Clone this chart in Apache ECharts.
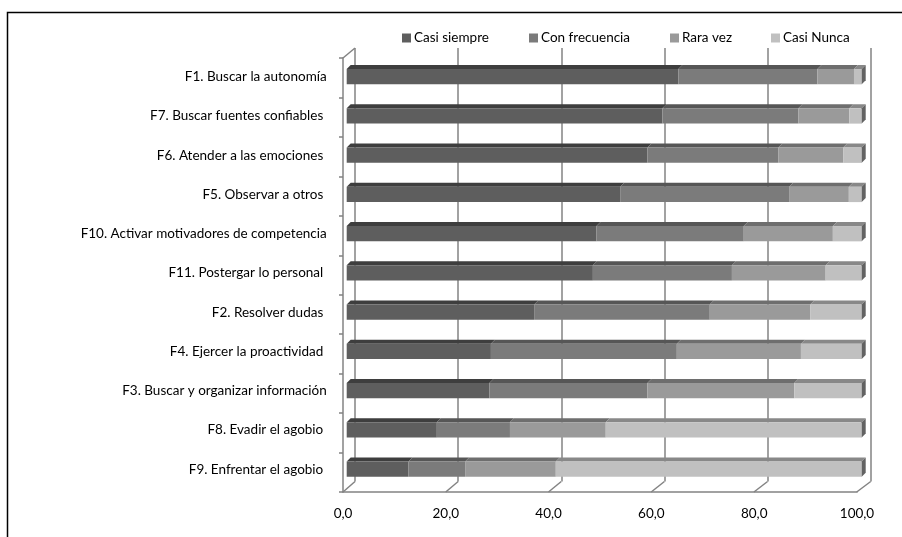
<!DOCTYPE html>
<html>
<head>
<meta charset="utf-8">
<script src="https://cdn.jsdelivr.net/npm/echarts@6/dist/echarts.min.js"></script>
<style>
  html, body { margin: 0; padding: 0; background: #fff; }
  #chart { width: 902px; height: 537px; }
</style>
</head>
<body>
<div id="chart"></div>
<script>
// Strategies, top to bottom
const categories = [
  'F1. Buscar la autonomía',
  'F7. Buscar fuentes confiables ',
  'F6. Atender a las emociones ',
  'F5. Observar a otros ',
  'F10. Activar motivadores de competencia',
  'F11. Postergar lo personal ',
  'F2. Resolver dudas ',
  'F4. Ejercer la proactividad ',
  'F3. Buscar y organizar información',
  'F8. Evadir el agobio ',
  'F9. Enfrentar el agobio '
];

const seriesNames = ['Casi siempre', 'Con frecuencia', 'Rara vez', 'Casi Nunca'];

// Percentages per answer, same order as categories
const casiSiempre   = [64.4, 61.3, 58.4, 53.1, 48.5, 47.8, 36.4, 28.0, 27.7, 17.5, 12.0];
const conFrecuencia = [27.0, 26.4, 25.4, 32.8, 28.6, 27.0, 34.1, 36.1, 30.7, 14.2, 11.0];
const raraVez       = [ 7.1,  9.9, 12.6, 11.6, 17.3, 18.2, 19.5, 24.1, 28.5, 18.6, 17.6];
const casiNunca     = [ 1.5,  2.4,  3.6,  2.5,  5.6,  7.0, 10.0, 11.8, 13.1, 49.7, 59.4];

const xTicks = [0, 20, 40, 60, 80, 100];

const FONT = 'Lato, "Liberation Sans", sans-serif';
const FONT_SIZE = 13.5;
const TEXT = '#000000';
const FRONT = ['#5e5e5e', '#7b7b7b', '#9a9a9a', '#c0c0c0'];
const TOP   = ['#3e3e3e', '#565656', '#6e6e6e', '#888888'];
const SIDE  = '#626262';
const WALL  = '#838383';
const LEGEND_LEFT = [402, 529, 670, 771];

// Stack the answers into [category, start, end] segments
const valueSets = [casiSiempre, conFrecuencia, raraVez, casiNunca];
const stacked = valueSets.map(() => []);
categories.forEach((c, i) => {
  let acc = 0;
  valueSets.forEach((vals, k) => {
    stacked[k].push([i, acc, acc + vals[i]]);
    acc += vals[i];
  });
});

// 3D-looking bar segment: front face, top face and (for the last one) end face
function barRenderer(k) {
  return function (params, api) {
    const ci = api.value(0);
    const a = api.coord([api.value(1), ci]);
    const b = api.coord([api.value(2), ci]);
    const h = 15.3, d = 4;
    const y0 = a[1] - h / 2;
    const children = [
      { type: 'polygon', shape: { points: [[a[0], y0], [b[0], y0], [b[0] + d, y0 - d], [a[0] + d, y0 - d]] },
        style: { fill: TOP[k] } },
      { type: 'rect', shape: { x: a[0], y: y0, width: b[0] - a[0], height: h },
        style: { fill: FRONT[k] } }
    ];
    if (k === valueSets.length - 1) {
      children.push({ type: 'polygon',
        shape: { points: [[b[0], y0], [b[0] + d, y0 - d], [b[0] + d, y0 - d + h], [b[0], y0 + h]] },
        style: { fill: SIDE } });
    }
    return { type: 'group', children };
  };
}

// Floor and left-wall edges joining the back wall to the front edge
function wallRenderer(params, api) {
  const v = api.value(0);
  const p = api.coord([v, 0]);
  const cs = params.coordSys;
  const bottom = cs.y + cs.height;
  const style = { stroke: WALL, lineWidth: 1.5 };
  const children = [
    { type: 'line', shape: { x1: p[0], y1: bottom, x2: p[0] - 12 - 2 * v / 100, y2: bottom + 10.5 }, style }
  ];
  if (v === 0) {
    children.push({ type: 'line', shape: { x1: p[0], y1: cs.y, x2: p[0] - 12, y2: cs.y + 10 }, style });
  }
  return { type: 'group', children };
}

const chart = echarts.init(document.getElementById('chart'), null, { renderer: 'canvas' });

const barSeries = seriesNames.map((name, k) => ({
  name,
  type: 'custom',
  xAxisIndex: 1,
  yAxisIndex: 1,
  renderItem: barRenderer(k),
  itemStyle: { color: FRONT[k] },
  encode: { x: [1, 2], y: 0 },
  data: stacked[k],
  clip: false,
  z: 5
}));

chart.setOption({
  animation: false,
  backgroundColor: '#ffffff',
  textStyle: { fontFamily: FONT },
  legend: seriesNames.map((name, k) => ({
    data: [name],
    left: LEGEND_LEFT[k],
    top: 31,
    padding: 0,
    icon: 'rect',
    itemWidth: 9,
    itemHeight: 9,
    selectedMode: false,
    textStyle: { fontFamily: FONT, fontSize: FONT_SIZE, color: TEXT, padding: [0, 0, 0, -2] }
  })),
  grid: [
    { left: 355, right: 31.3, top: 48, bottom: 55.5 },
    { left: 346.7, right: 40.3, top: 57.1, bottom: 48.2 },
    { left: 343, right: 45, top: 58, bottom: 45 }
  ],
  xAxis: [
    { gridIndex: 0, type: 'value', min: 0, max: 100, interval: 20,
      axisLine: { show: false }, axisTick: { show: false }, axisLabel: { show: false },
      splitLine: { show: true, lineStyle: { color: WALL, width: 1.5 } } },
    { gridIndex: 1, type: 'value', min: 0, max: 100, show: false },
    { gridIndex: 2, type: 'value', min: 0, max: 100, interval: 20,
      axisLine: { show: true, lineStyle: { color: WALL, width: 1.5 } },
      axisTick: { show: false }, splitLine: { show: false },
      axisLabel: { margin: 15, fontFamily: FONT, fontSize: FONT_SIZE, color: TEXT,
        formatter: v => v.toFixed(1).replace('.', ',') } }
  ],
  yAxis: [
    { gridIndex: 0, type: 'category', data: categories, inverse: true, show: false },
    { gridIndex: 1, type: 'category', data: categories, inverse: true,
      axisLine: { show: false }, axisTick: { show: false }, splitLine: { show: false },
      axisLabel: { margin: 20, fontFamily: FONT, fontSize: FONT_SIZE, color: TEXT } },
    { gridIndex: 2, type: 'category', data: categories, inverse: true,
      axisLine: { show: true, lineStyle: { color: WALL, width: 1.5 } },
      axisTick: { show: true, length: 4, lineStyle: { color: WALL, width: 1.5 } },
      axisLabel: { show: false }, splitLine: { show: false } }
  ],
  graphic: [
    { type: 'polyline', shape: { points: [[7.5, 537], [7.5, 12.5], [902, 12.5]] },
      style: { stroke: '#000', lineWidth: 1.5, fill: null }, z: 10 }
  ],
  series: [
    { type: 'custom', xAxisIndex: 0, yAxisIndex: 0, renderItem: wallRenderer,
      encode: { x: 0 }, data: xTicks.map(v => [v]), clip: false, silent: true, z: 1 },
    ...barSeries
  ]
});
</script>
</body>
</html>
